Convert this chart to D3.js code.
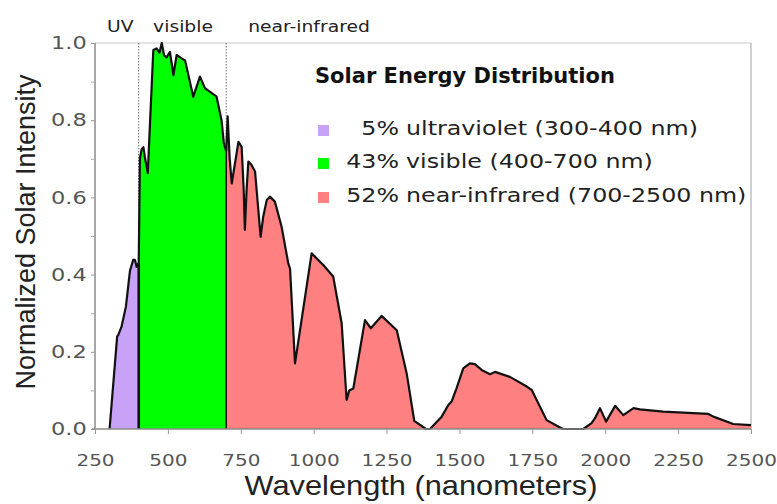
<!DOCTYPE html>
<html>
<head>
<meta charset="utf-8">
<script src="https://cdn.jsdelivr.net/npm/d3@7"></script>
<style>
  html, body { margin: 0; padding: 0; background: #fff; }
  svg { display: block; }
  text { font-family: "DejaVu Sans", Verdana, sans-serif; }
</style>
</head>
<body>
<div id="chart"></div>
<script>
// ---------------- data ----------------
const uvNm        = [300, 326, 330, 341, 356, 370, 381, 387, 393, 400];
const uvIntensity = [0.0, 0.24, 0.244, 0.265, 0.317, 0.41, 0.438, 0.438, 0.42, 0.43];

const visNm        = [400, 404, 410, 416, 422, 431, 450, 461, 471, 479, 487, 496, 507, 519, 530, 547, 559, 587, 610, 627, 667, 684, 692, 700];
const visIntensity = [0.43, 0.70, 0.725, 0.73, 0.70, 0.663, 0.982, 0.986, 0.975, 1.0, 0.968, 0.963, 0.977, 0.917, 0.969, 0.96, 0.955, 0.861, 0.913, 0.883, 0.861, 0.80, 0.74, 0.72];

const nirNm        = [700, 705, 712, 719, 742, 753, 760, 764, 770, 776, 787, 799, 818, 827, 839, 850, 867, 890, 913, 919, 936, 993, 1033, 1067, 1096, 1113, 1122, 1136, 1176, 1196, 1233, 1285, 1319, 1345, 1385, 1399, 1439, 1462, 1473, 1490, 1513, 1536, 1553, 1576, 1605, 1622, 1673, 1731, 1748, 1799, 1845, 1856, 1925, 1953, 1965, 1982, 2003, 2034, 2062, 2097, 2119, 2199, 2354, 2371, 2439, 2500];
const nirIntensity = [0.72, 0.81, 0.70, 0.636, 0.744, 0.731, 0.62, 0.516, 0.62, 0.693, 0.684, 0.667, 0.498, 0.55, 0.593, 0.602, 0.589, 0.524, 0.429, 0.415, 0.17, 0.455, 0.425, 0.395, 0.274, 0.075, 0.10, 0.105, 0.282, 0.261, 0.293, 0.256, 0.144, 0.021, 0.0, 0.0, 0.032, 0.062, 0.071, 0.105, 0.157, 0.17, 0.168, 0.153, 0.142, 0.148, 0.135, 0.11, 0.101, 0.023, 0.004, 0.0, 0.0, 0.015, 0.028, 0.054, 0.019, 0.06, 0.036, 0.054, 0.051, 0.045, 0.039, 0.032, 0.013, 0.01];

const bandBoundaries = [400, 700];
const bandLabels     = ["UV", "visible", "near-infrared"];
const bandLabelNm    = [337, 552, 984];
const bandColors     = ["#c8a2f7", "#00ff00", "#ff8080"];
const legendTitle    = "Solar Energy Distribution";
const legendPercents = ["5%", "43%", "52%"];
const legendLabels   = ["ultraviolet (300-400 nm)", "visible (400-700 nm)", "near-infrared (700-2500 nm)"];

const xTicks = [250, 500, 750, 1000, 1250, 1500, 1750, 2000, 2250, 2500];
const yTicks = [0, 0.2, 0.4, 0.6, 0.8, 1.0];
const yMinorTicks = [0.1, 0.3, 0.5, 0.7, 0.9];

// ---------------- layout ----------------
const W = 777, H = 504;
const pL = 95, pR = 751, pT = 43, pB = 429;
const SX = 1.25; // horizontal stretch of the original artwork's lettering

const svg = d3.select("#chart").append("svg").attr("width", W).attr("height", H);

const x = d3.scaleLinear().domain([250, 2500]).range([pL, pR]);
const y = d3.scaleLinear().domain([0, 1]).range([pB, pT]);

function stretchedText(g, tx, ty, str, size, anchor, sx) {
  return g.append("text")
    .attr("transform", `translate(${tx},${ty}) scale(${sx},1)`)
    .attr("text-anchor", anchor || "start")
    .style("font-size", size + "px")
    .attr("fill", "#222")
    .text(str);
}

// frame (top + right)
svg.append("line").attr("x1", pL).attr("x2", pR).attr("y1", pT).attr("y2", pT)
  .attr("stroke", "#c8c8c8").attr("stroke-width", 1.2);
svg.append("line").attr("x1", pR).attr("x2", pR).attr("y1", pT).attr("y2", pB)
  .attr("stroke", "#b0b0b0").attr("stroke-width", 1.2);

// dotted band boundaries (behind fills)
svg.selectAll("line.bound").data(bandBoundaries).enter().append("line")
  .attr("class", "bound")
  .attr("x1", d => x(d)).attr("x2", d => x(d))
  .attr("y1", pT).attr("y2", pB)
  .attr("stroke", "#666").attr("stroke-width", 1).attr("stroke-dasharray", "1.5,1.5");

const bands = [
  { nm: uvNm, v: uvIntensity, color: bandColors[0] },
  { nm: visNm, v: visIntensity, color: bandColors[1] },
  { nm: nirNm, v: nirIntensity, color: bandColors[2] }
];

const area = d3.area().x(d => x(d[0])).y0(y(0)).y1(d => y(d[1]));
const line = d3.line().x(d => x(d[0])).y(d => y(d[1]));

bands.forEach(b => {
  const pts = b.nm.map((n, i) => [n, b.v[i]]);
  svg.append("path").datum(pts).attr("d", area).attr("fill", b.color).attr("stroke", "none");
});

// vertical black edges between bands
bands.slice(1).forEach((b, i) => {
  const n = b.nm[0];
  const prev = bands[i];
  const top1 = Math.max(b.v[0], prev.v[prev.v.length - 1]);
  svg.append("line").attr("x1", x(n)).attr("x2", x(n))
    .attr("y1", y(0)).attr("y2", y(top1))
    .attr("stroke", "#111").attr("stroke-width", i === 0 ? 2.6 : 1.6);
});

// top outline
bands.forEach(b => {
  const pts = b.nm.map((n, i) => [n, b.v[i]]);
  svg.append("path").datum(pts).attr("d", line)
    .attr("fill", "none").attr("stroke", "#111").attr("stroke-width", 2.2)
    .attr("stroke-linejoin", "round");
});

// axes
const xAxis = d3.axisBottom(x).tickValues(xTicks).tickSize(5).tickPadding(21).tickFormat(d3.format("d"));
const gx = svg.append("g").attr("transform", `translate(0,${pB})`).call(xAxis);
gx.select(".domain").attr("stroke", "#8a8a8a").attr("stroke-width", 1.5).attr("d", `M${pL - 3},0H${pR}`);
gx.selectAll(".tick line").attr("stroke", "#999");
gx.selectAll(".tick text").attr("fill", "#555").style("font-size", "16px")
  .style("font-family", "'DejaVu Sans', sans-serif")
  .attr("transform", `scale(${SX},1)`);

const yAxis = d3.axisLeft(y).tickValues(yTicks).tickSize(4).tickPadding(2.6).tickFormat(d3.format(".1f"));
const gy = svg.append("g").attr("transform", `translate(${pL},0)`).call(yAxis);
gy.select(".domain").attr("stroke", "#8a8a8a").attr("stroke-width", 1.5).attr("d", `M0,${pT}V${pB}`);
gy.selectAll(".tick line").attr("stroke", "#999");
gy.selectAll(".tick text").attr("fill", "#555").style("font-size", "18px")
  .style("font-family", "'DejaVu Sans', sans-serif")
  .attr("transform", `scale(${SX},1)`);

const yMinor = d3.axisLeft(y).tickValues(yMinorTicks).tickSize(4).tickFormat("");
const gym = svg.append("g").attr("transform", `translate(${pL},0)`).call(yMinor);
gym.select(".domain").remove();
gym.selectAll(".tick line").attr("stroke", "#aaa");

// axis titles
svg.append("text").attr("transform", `translate(421,495) scale(1.14,1)`)
  .attr("text-anchor", "middle").attr("fill", "#222")
  .style("font-family", "'Liberation Sans', Arial, sans-serif").style("font-size", "27px")
  .text("Wavelength (nanometers)");
svg.append("text").attr("transform", `translate(35,232) rotate(-90)`)
  .attr("text-anchor", "middle").attr("fill", "#222")
  .style("font-family", "'Liberation Sans', Arial, sans-serif").style("font-size", "27px")
  .text("Normalized Solar Intensity");

// band labels at top
bandLabels.forEach((lab, i) => {
  stretchedText(svg, x(bandLabelNm[i]), 32, lab, 15, "middle", SX);
});

// legend
const lg = svg.append("g");
lg.append("text").attr("x", 315).attr("y", 83).attr("fill", "#111")
  .style("font-size", "21px").style("font-weight", "bold").text(legendTitle);
const rowBase = [135, 168, 202];
legendLabels.forEach((lab, i) => {
  lg.append("rect").attr("x", 318).attr("y", rowBase[i] - 10).attr("width", 11).attr("height", 11)
    .attr("fill", bandColors[i]);
  stretchedText(lg, 399, rowBase[i], legendPercents[i], 19, "end", SX);
  stretchedText(lg, 406, rowBase[i], lab, 19, "start", SX);
});
</script>
</body>
</html>
